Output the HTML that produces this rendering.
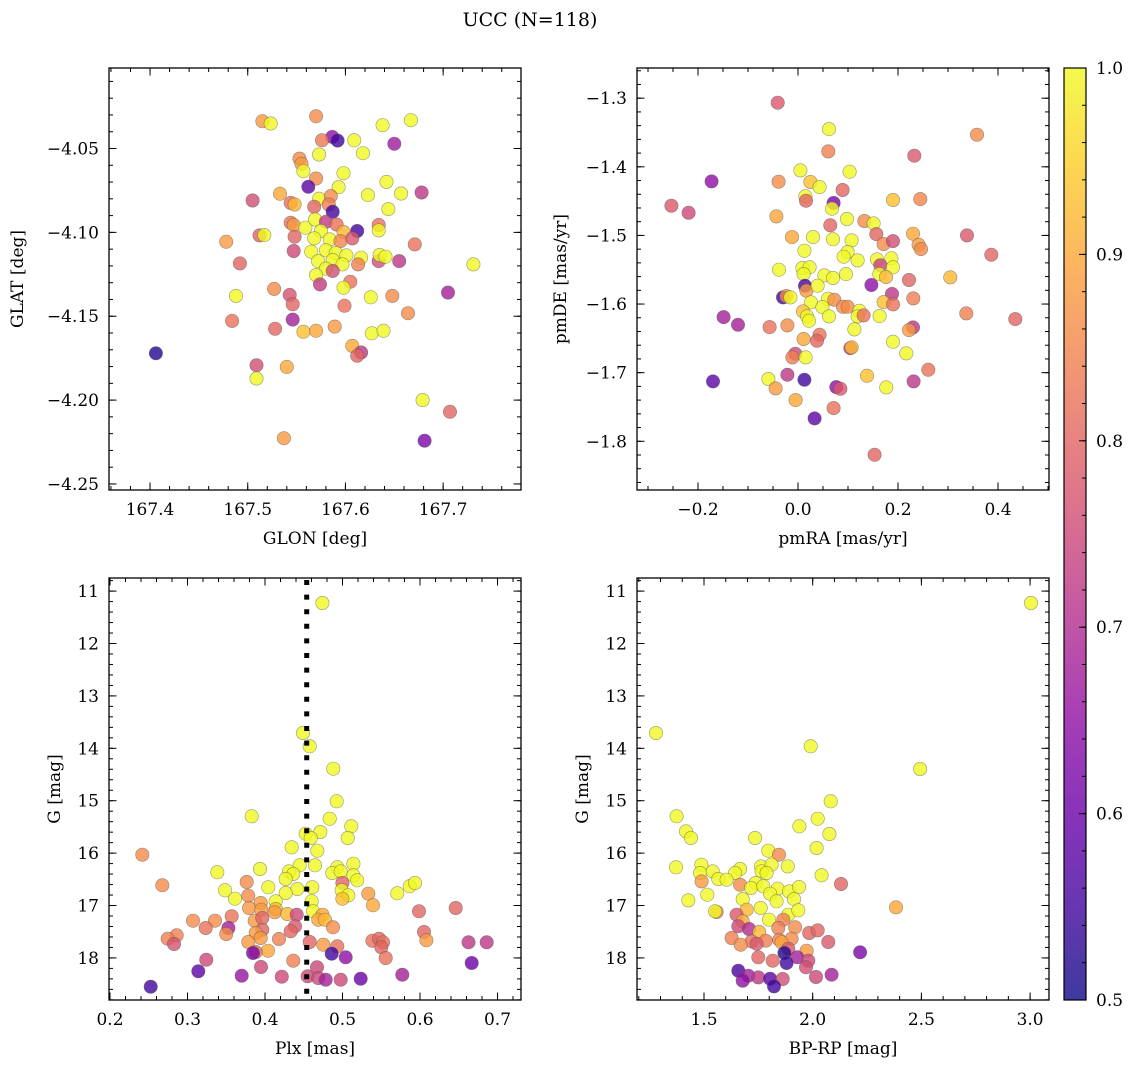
<!DOCTYPE html>
<html><head><meta charset="utf-8"><style>
html,body{margin:0;padding:0;background:#fff;}
svg{display:block;font-family:"DejaVu Serif","Liberation Serif",serif;}
</style></head><body>
<svg id="fig" width="1136" height="1067" viewBox="0 0 1136 1067" xmlns="http://www.w3.org/2000/svg">
<defs>
<linearGradient id="plasma" x1="0" y1="1" x2="0" y2="0">
<stop offset="0" stop-color="#0d0887"/><stop offset="0.1" stop-color="#41049d"/><stop offset="0.2" stop-color="#6a00a8"/><stop offset="0.3" stop-color="#8f0da4"/><stop offset="0.4" stop-color="#b12a90"/><stop offset="0.5" stop-color="#cc4778"/><stop offset="0.6" stop-color="#e16462"/><stop offset="0.7" stop-color="#f2844b"/><stop offset="0.8" stop-color="#fca636"/><stop offset="0.9" stop-color="#fcce25"/><stop offset="1" stop-color="#f0f921"/>
</linearGradient>
</defs>
<text x="530" y="26" font-size="19" text-anchor="middle">UCC (N=118)</text>
<g id="panels"></g>
<rect x="1064" y="68" width="22" height="932" fill="url(#plasma)" opacity="0.8"/>
<rect x="1064" y="68" width="22" height="932" fill="none" stroke="#000" stroke-width="1.2"/>
<g id="cbticks"></g>
</svg>
<script>
// ---- Top-left: GLON vs GLAT ----
const tlGlon=[167.515,167.5235,167.570,167.638,167.667,167.5866,167.592,167.576,167.609,167.650,167.573,167.618,167.553,167.555,167.557,167.598,167.570,167.562,167.593,167.642,167.623,167.657,167.678,167.533,167.505,167.544,167.548,167.573,167.585,167.583,167.568,167.587,167.644,167.544,167.547,167.559,167.569,167.580,167.591,167.612,167.634,167.634,167.512,167.517,167.548,167.575,167.598,167.568,167.584,167.595,167.607,167.478,167.671,167.547,167.565,167.580,167.590,167.601,167.616,167.634,167.635,167.641,167.655,167.731,167.492,167.572,167.587,167.597,167.580,167.587,167.613,167.570,167.574,167.605,167.598,167.527,167.543,167.488,167.546,167.599,167.626,167.648,167.705,167.664,167.546,167.484,167.528,167.557,167.570,167.589,167.627,167.639,167.607,167.616,167.612,167.406,167.509,167.540,167.509,167.679,167.707,167.537,167.681];
const tlGlat=[-4.0337,-4.0351,-4.0308,-4.0361,-4.0331,-4.0431,-4.0453,-4.0451,-4.0451,-4.0472,-4.0536,-4.0528,-4.056,-4.0591,-4.0635,-4.0647,-4.0679,-4.0728,-4.073,-4.0699,-4.0778,-4.0768,-4.0762,-4.077,-4.081,-4.0824,-4.0834,-4.080,-4.0784,-4.0834,-4.0847,-4.0877,-4.0861,-4.0943,-4.0956,-4.0972,-4.0923,-4.0937,-4.0953,-4.0992,-4.0956,-4.0988,-4.1018,-4.1016,-4.1026,-4.0992,-4.0998,-4.1036,-4.1042,-4.1052,-4.1036,-4.1056,-4.1072,-4.1111,-4.1115,-4.1107,-4.1123,-4.1137,-4.1151,-4.1171,-4.1135,-4.1145,-4.1171,-4.1191,-4.1185,-4.1171,-4.1165,-4.1191,-4.1216,-4.1230,-4.1191,-4.1254,-4.131,-4.1294,-4.1330,-4.1337,-4.1373,-4.1379,-4.1429,-4.1438,-4.1387,-4.1379,-4.1359,-4.1482,-4.152,-4.1528,-4.1575,-4.1593,-4.1587,-4.1562,-4.1602,-4.1587,-4.1677,-4.1716,-4.1736,-4.1721,-4.1792,-4.1802,-4.1871,-4.2000,-4.2070,-4.2227,-4.2242];
const tlProb=[0.88,0.97,0.86,0.97,0.97,0.65,0.55,0.83,0.97,0.67,0.97,0.97,0.86,0.88,0.95,0.97,0.86,0.58,0.97,0.97,0.97,0.97,0.72,0.9,0.76,0.82,0.92,0.95,0.86,0.84,0.8,0.55,0.97,0.82,0.88,0.97,0.97,0.73,0.82,0.55,0.82,0.97,0.8,0.95,0.8,0.97,0.92,0.97,0.97,0.85,0.78,0.88,0.82,0.75,0.97,0.97,0.95,0.97,0.97,0.76,0.95,0.97,0.72,0.95,0.8,0.97,0.97,0.97,0.95,0.76,0.84,0.97,0.73,0.82,0.95,0.86,0.77,0.95,0.8,0.82,0.97,0.86,0.68,0.86,0.68,0.82,0.8,0.93,0.9,0.88,0.95,0.95,0.9,0.72,0.8,0.52,0.76,0.9,0.95,0.95,0.8,0.88,0.62];
const tlXTicks=[167.4,167.5,167.6,167.7];
const tlYTicks=[-4.05,-4.10,-4.15,-4.20,-4.25];

// ---- Top-right: pmRA vs pmDE ----
const trPmra=[-0.0406,0.062,0.0606,0.358,0.2327,-0.1727,-0.0387,0.0047,0.1033,0.0247,0.0433,0.0893,0.0147,0.016,0.0713,0.068,0.19,0.2447,-0.2533,-0.2187,-0.0433,0.098,0.0647,0.1327,0.1513,-0.012,0.03,0.07,0.1073,0.1567,0.1713,0.19,0.23,0.2413,0.246,0.338,0.3867,0.0127,0.0993,0.0913,0.1193,0.158,0.1867,0.1647,0.19,-0.038,0.0087,0.0233,0.0113,0.0527,0.07,0.096,0.1627,0.176,0.222,0.3047,0.014,0.0167,0.0393,0.1467,0.188,-0.03,-0.0233,-0.0153,0.026,0.06,0.0727,0.09,0.0993,0.0487,0.1227,0.1713,0.19,0.2307,0.01,0.018,0.022,0.062,0.1193,0.1313,0.1633,0.3367,0.4347,-0.1487,-0.12,-0.0567,-0.0213,0.1127,0.23,0.222,0.0113,0.0433,0.038,0.1047,0.1073,0.19,0.2167,-0.0053,-0.0113,0.0153,0.2607,-0.17,-0.0593,-0.0213,0.0127,0.138,0.2313,0.0767,0.0847,0.1767,-0.0447,-0.0047,0.0713,0.0333,0.1533];
const trPmde=[-1.3066,-1.345,-1.3775,-1.3532,-1.3838,-1.4212,-1.4217,-1.4052,-1.4071,-1.4222,-1.4295,-1.4338,-1.443,-1.4494,-1.4528,-1.461,-1.4484,-1.447,-1.4567,-1.467,-1.4722,-1.4761,-1.4853,-1.479,-1.4824,-1.5024,-1.5024,-1.5057,-1.5072,-1.498,-1.5126,-1.5082,-1.4975,-1.5136,-1.5199,-1.4999,-1.5281,-1.5223,-1.5242,-1.531,-1.5364,-1.5349,-1.5334,-1.5436,-1.5465,-1.55,-1.5475,-1.5465,-1.5563,-1.5582,-1.5621,-1.5563,-1.5563,-1.5607,-1.565,-1.5611,-1.5733,-1.5806,-1.5733,-1.5723,-1.5854,-1.5903,-1.5884,-1.5903,-1.5976,-1.5923,-1.5938,-1.604,-1.604,-1.6044,-1.6098,-1.5971,-1.6005,-1.5917,-1.6107,-1.618,-1.6244,-1.618,-1.618,-1.6165,-1.6175,-1.6136,-1.6219,-1.619,-1.6302,-1.6336,-1.6311,-1.637,-1.634,-1.6379,-1.651,-1.6448,-1.6535,-1.6642,-1.6632,-1.655,-1.6719,-1.6725,-1.6777,-1.6777,-1.6958,-1.7127,-1.7093,-1.703,-1.7104,-1.7045,-1.7127,-1.721,-1.7235,-1.7215,-1.723,-1.74,-1.7516,-1.7666,-1.8197];
const trProb=[0.78,0.97,0.84,0.86,0.78,0.65,0.86,0.97,0.97,0.93,0.97,0.8,0.95,0.8,0.62,0.95,0.93,0.85,0.78,0.75,0.9,0.97,0.8,0.86,0.97,0.9,0.97,0.97,0.97,0.8,0.86,0.76,0.9,0.88,0.86,0.78,0.8,0.97,0.97,0.97,0.97,0.97,0.97,0.74,0.95,0.97,0.97,0.97,0.97,0.97,0.97,0.97,0.95,0.92,0.8,0.92,0.56,0.88,0.97,0.65,0.72,0.55,0.86,0.97,0.97,0.97,0.86,0.86,0.86,0.97,0.95,0.93,0.82,0.84,0.93,0.95,0.97,0.97,0.95,0.82,0.97,0.84,0.8,0.68,0.68,0.82,0.86,0.97,0.72,0.88,0.9,0.82,0.8,0.72,0.93,0.97,0.95,0.75,0.84,0.97,0.82,0.58,0.95,0.72,0.55,0.93,0.72,0.65,0.78,0.97,0.88,0.9,0.82,0.58,0.8];
const trXTicks=[-0.2,0.0,0.2,0.4];
const trYTicks=[-1.3,-1.4,-1.5,-1.6,-1.7,-1.8];

// ---- Bottom-left: Plx vs G ----
const blPlx=[0.474,0.449,0.4577,0.4881,0.4925,0.3828,0.4835,0.5114,0.5067,0.4525,0.4714,0.459,0.4345,0.4675,0.2417,0.4448,0.4645,0.514,0.4933,0.3935,0.3385,0.4310,0.4365,0.4868,0.4977,0.514,0.519,0.2675,0.3764,0.4267,0.4998,0.4610,0.4043,0.3484,0.4417,0.499,0.5333,0.5707,0.5867,0.5935,0.4267,0.3613,0.3785,0.5075,0.4998,0.4602,0.4138,0.3944,0.5394,0.3794,0.3952,0.4138,0.4125,0.4619,0.5987,0.646,0.4288,0.4409,0.4740,0.357,0.3071,0.3355,0.3867,0.3965,0.4688,0.4774,0.3235,0.3527,0.4387,0.4877,0.3965,0.4332,0.3501,0.388,0.6052,0.2861,0.2744,0.3944,0.4181,0.5385,0.5471,0.5523,0.6082,0.6625,0.6861,0.2826,0.3785,0.4577,0.4752,0.4933,0.55,0.4039,0.388,0.3845,0.486,0.5041,0.5557,0.4365,0.3243,0.6667,0.3948,0.4671,0.3139,0.5772,0.3699,0.4216,0.4551,0.4688,0.4783,0.4977,0.5235,0.2525];
const blG=[11.227,13.708,13.962,14.389,15.012,15.298,15.343,15.489,15.712,15.630,15.597,15.712,15.889,15.954,16.030,16.233,16.233,16.202,16.271,16.303,16.367,16.348,16.399,16.380,16.348,16.424,16.519,16.615,16.552,16.494,16.571,16.653,16.653,16.710,16.685,16.710,16.774,16.767,16.634,16.571,16.761,16.870,16.813,16.806,16.870,16.920,16.920,16.952,16.996,17.048,17.080,17.067,17.130,17.111,17.111,17.048,17.162,17.175,17.175,17.206,17.290,17.290,17.290,17.239,17.271,17.271,17.429,17.429,17.397,17.416,17.462,17.492,17.544,17.525,17.506,17.569,17.633,17.620,17.639,17.672,17.633,17.702,17.664,17.702,17.702,17.735,17.697,17.697,17.748,17.779,17.798,17.862,17.887,17.906,17.919,17.989,18.002,18.053,18.034,18.097,18.173,18.179,18.256,18.320,18.340,18.359,18.351,18.384,18.416,18.416,18.397,18.550];
const blProb=[0.97,0.97,0.97,0.97,0.97,0.95,0.97,0.97,0.97,0.97,0.97,0.97,0.97,0.97,0.86,0.97,0.97,0.97,0.97,0.97,0.97,0.97,0.97,0.97,0.95,0.97,0.97,0.86,0.86,0.97,0.8,0.97,0.97,0.97,0.97,0.95,0.88,0.95,0.95,0.95,0.97,0.97,0.86,0.95,0.93,0.97,0.97,0.88,0.9,0.88,0.88,0.92,0.88,0.97,0.8,0.8,0.92,0.75,0.9,0.82,0.86,0.86,0.88,0.8,0.9,0.92,0.82,0.68,0.78,0.86,0.8,0.8,0.86,0.88,0.8,0.84,0.84,0.88,0.84,0.82,0.8,0.82,0.88,0.72,0.72,0.77,0.88,0.8,0.88,0.82,0.8,0.9,0.82,0.62,0.55,0.65,0.82,0.84,0.75,0.6,0.75,0.75,0.58,0.68,0.66,0.75,0.75,0.75,0.68,0.75,0.6,0.55];
const blXTicks=[0.2,0.3,0.4,0.5,0.6,0.7];
const blYTicks=[11,12,13,14,15,16,17,18];
const plxMedian=[0.4538];

// ---- Bottom-right: BP-RP vs G ----
const brColor=[3.004,1.279,1.991,2.494,2.083,1.374,2.023,1.939,1.417,1.440,1.735,2.077,2.018,1.796,1.845,1.371,1.488,1.482,1.540,1.666,1.643,1.762,1.811,1.885,1.765,1.788,2.041,1.566,1.604,1.489,1.666,1.738,2.130,1.515,1.716,1.773,1.839,1.891,1.937,1.804,1.428,1.678,1.834,1.914,2.383,1.558,1.551,1.696,1.761,1.888,1.934,1.650,1.678,1.799,1.865,1.658,1.707,1.754,1.842,1.919,1.984,2.023,1.627,1.719,1.784,1.846,1.903,1.669,1.857,2.072,1.742,1.888,1.972,1.870,2.218,1.750,1.816,1.929,1.980,1.880,1.969,1.658,1.704,1.750,1.804,1.862,1.678,1.822,2.015,2.087];
const brG=[11.227,13.708,13.962,14.395,15.012,15.298,15.343,15.489,15.585,15.712,15.712,15.636,15.903,15.954,16.030,16.271,16.221,16.380,16.348,16.303,16.380,16.253,16.221,16.253,16.348,16.380,16.424,16.494,16.507,16.539,16.602,16.571,16.590,16.793,16.666,16.634,16.679,16.730,16.647,16.774,16.902,16.877,16.920,16.877,17.035,17.124,17.111,17.080,17.048,17.175,17.092,17.175,17.302,17.271,17.271,17.397,17.448,17.506,17.429,17.416,17.525,17.474,17.620,17.684,17.672,17.652,17.633,17.748,17.702,17.697,17.728,17.824,17.862,17.906,17.893,17.989,18.053,17.989,18.053,18.097,18.179,18.243,18.340,18.371,18.397,18.403,18.435,18.543,18.365,18.320];
const brProb=[0.97,0.97,0.97,0.97,0.97,0.97,0.97,0.97,0.97,0.97,0.97,0.97,0.97,0.97,0.86,0.97,0.97,0.95,0.97,0.97,0.97,0.97,0.97,0.97,0.97,0.97,0.97,0.97,0.97,0.88,0.86,0.95,0.8,0.97,0.97,0.97,0.97,0.97,0.97,0.95,0.97,0.97,0.97,0.97,0.9,0.84,0.95,0.92,0.95,0.95,0.95,0.78,0.9,0.95,0.84,0.75,0.7,0.92,0.84,0.86,0.8,0.8,0.84,0.82,0.84,0.84,0.86,0.86,0.9,0.78,0.78,0.78,0.88,0.52,0.62,0.8,0.8,0.68,0.75,0.55,0.76,0.56,0.68,0.72,0.58,0.76,0.65,0.55,0.75,0.68];
const brXTicks=[1.5,2.0,2.5,3.0];
const brYTicks=[11,12,13,14,15,16,17,18];

const cbTicks=[0.5,0.6,0.7,0.8,0.9,1.0];

const NS='http://www.w3.org/2000/svg';
const stops=[[0,'#0d0887'],[0.1,'#41049d'],[0.2,'#6a00a8'],[0.3,'#8f0da4'],[0.4,'#b12a90'],[0.5,'#cc4778'],[0.6,'#e16462'],[0.7,'#f2844b'],[0.8,'#fca636'],[0.9,'#fcce25'],[1,'#f0f921']];
function hex(h){return [1,3,5].map(i=>parseInt(h.substr(i,2),16));}
function plasma(p){
  if(p>=0.95)p=1.0;
  let t=Math.max(0,Math.min(1,(p-0.5)/0.5));
  for(let i=1;i<stops.length;i++){
    if(t<=stops[i][0]){
      const a=hex(stops[i-1][1]),b=hex(stops[i][1]);
      const f=(t-stops[i-1][0])/(stops[i][0]-stops[i-1][0]);
      return 'rgb('+a.map((v,k)=>Math.round(v+(b[k]-v)*f)).join(',')+')';
    }
  }
  return stops[stops.length-1][1];
}
function mk(tag,attrs,parent){const e=document.createElementNS(NS,tag);for(const k in attrs)e.setAttribute(k,attrs[k]);parent.appendChild(e);return e;}
function fmt(v,d){let s=v.toFixed(d);if(s.startsWith('-'))s='\u2212'+s.slice(1);if(s==='\u22120.0')s='0.0';return s;}

const root=document.getElementById('panels');
function panel(o){
  const g=mk('g',{},root);
  
  
  const L=o.x0,R=o.x1,T=o.y0,B=o.y1;
  const sx=v=>L+(v-o.xmin)/(o.xmax-o.xmin)*(R-L);
  const sy=v=>o.yinv? T+(v-o.ymin)/(o.ymax-o.ymin)*(B-T) : B-(v-o.ymin)/(o.ymax-o.ymin)*(B-T);
  const clip='clip-'+o.name;
  const cp=mk('clipPath',{id:clip},g);mk('rect',{x:L,y:T,width:R-L,height:B-T},cp);
  const pg=mk('g',{'clip-path':'url(#'+clip+')'},g);
  for(let i=0;i<o.xs.length;i++){
    const c=mk('circle',{cx:sx(o.xs[i]).toFixed(1),cy:sy(o.ys[i]).toFixed(1),r:6.7,fill:plasma(o.ps[i]),'fill-opacity':0.8,stroke:'#555','stroke-opacity':0.6,'stroke-width':0.6},pg);
    
    
  }
  if(o.vline){
    const vl=mk('line',{x1:sx(o.vline[0]),x2:sx(o.vline[0]),y1:T+2,y2:B,stroke:'#000','stroke-width':5,'stroke-dasharray':'5 9.6'},pg);
    
    
  }
  const tg=mk('g',{stroke:'#000','stroke-width':1},g);
  for(let v=o.xmin-((o.xmin%o.xminor)+o.xminor)%o.xminor;v<=o.xmax+1e-9;v+=o.xminor){
    if(v<o.xmin-1e-9)continue;const x=sx(v);
    mk('line',{x1:x,x2:x,y1:B,y2:B-4},tg);mk('line',{x1:x,x2:x,y1:T,y2:T+4},tg);
  }
  for(let v=Math.ceil(Math.min(o.ymin,o.ymax)/o.yminor)*o.yminor;v<=Math.max(o.ymin,o.ymax)+1e-9;v+=o.yminor){
    const y=sy(v);mk('line',{x1:L,x2:L+4,y1:y,y2:y},tg);mk('line',{x1:R,x2:R-4,y1:y,y2:y},tg);
  }
  o.xt.forEach(v=>{const x=sx(v);
    mk('line',{x1:x,x2:x,y1:B,y2:B-7.5},tg);mk('line',{x1:x,x2:x,y1:T,y2:T+7.5},tg);
    const t=mk('text',{x:x,y:B+25,'font-size':17,'text-anchor':'middle'},g);t.textContent=fmt(v,o.xd);
    
    
  });
  o.yt.forEach(v=>{const y=sy(v);
    mk('line',{x1:L,x2:L+7.5,y1:y,y2:y},tg);mk('line',{x1:R,x2:R-7.5,y1:y,y2:y},tg);
    const t=mk('text',{x:L-10,y:y+6,'font-size':17,'text-anchor':'end'},g);t.textContent=fmt(v,o.yd);
    
    
  });
  const fr=mk('rect',{x:L,y:T,width:R-L,height:B-T,fill:'none',stroke:'#000','stroke-width':1.3},g);
  
  
  const xl=mk('text',{x:(L+R)/2,y:B+54,'font-size':17,'text-anchor':'middle'},g);xl.textContent=o.xlabel;
  
  
  const yl=mk('text',{x:0,y:0,'font-size':17,'text-anchor':'middle',transform:'translate('+o.ylx+','+((T+B)/2)+') rotate(-90)'},g);yl.textContent=o.ylabel;
  
  
}
panel({name:'glon-glat-panel',x0:109,x1:521,y0:68,y1:490,xmin:167.358,xmax:167.7797,ymin:-4.2536,ymax:-4.002,xs:tlGlon,ys:tlGlat,ps:tlProb,xt:tlXTicks,yt:tlYTicks,xd:1,yd:2,xminor:0.02,yminor:0.01,xlabel:'GLON [deg]',ylabel:'GLAT [deg]',ylx:23});
panel({name:'pm-panel',x0:637,x1:1049,y0:68,y1:490,xmin:-0.322,xmax:0.502,ymin:-1.871,ymax:-1.256,xs:trPmra,ys:trPmde,ps:trProb,xt:trXTicks,yt:trYTicks,xd:1,yd:1,xminor:0.05,yminor:0.02,xlabel:'pmRA [mas/yr]',ylabel:'pmDE [mas/yr]',ylx:566});
panel({name:'plx-g-panel',x0:109,x1:521,y0:578,y1:1000,xmin:0.1987,xmax:0.7303,ymin:10.75,ymax:18.803,yinv:true,xs:blPlx,ys:blG,ps:blProb,xt:blXTicks,yt:blYTicks,xd:1,yd:0,xminor:0.02,yminor:0.2,xlabel:'Plx [mas]',ylabel:'G [mag]',ylx:60,vline:plxMedian});
panel({name:'cmd-panel',x0:637,x1:1049,y0:578,y1:1000,xmin:1.1918,xmax:3.0870,ymin:10.75,ymax:18.803,yinv:true,xs:brColor,ys:brG,ps:brProb,xt:brXTicks,yt:brYTicks,xd:1,yd:0,xminor:0.1,yminor:0.2,xlabel:'BP-RP [mag]',ylabel:'G [mag]',ylx:588});

const cbg=document.getElementById('cbticks');
const cy=v=>1000-(v-0.5)/0.5*932;
for(let v=0.5;v<=1.0001;v+=0.02){mk('line',{x1:1086,x2:1082,y1:cy(v),y2:cy(v),stroke:'#000'},cbg);}
cbTicks.forEach(v=>{
  mk('line',{x1:1086,x2:1079,y1:cy(v),y2:cy(v),stroke:'#000'},cbg);
  const t=mk('text',{x:1096,y:cy(v)+6,'font-size':17},cbg);t.textContent=v.toFixed(1);
  
  
});
</script>
</body></html>
